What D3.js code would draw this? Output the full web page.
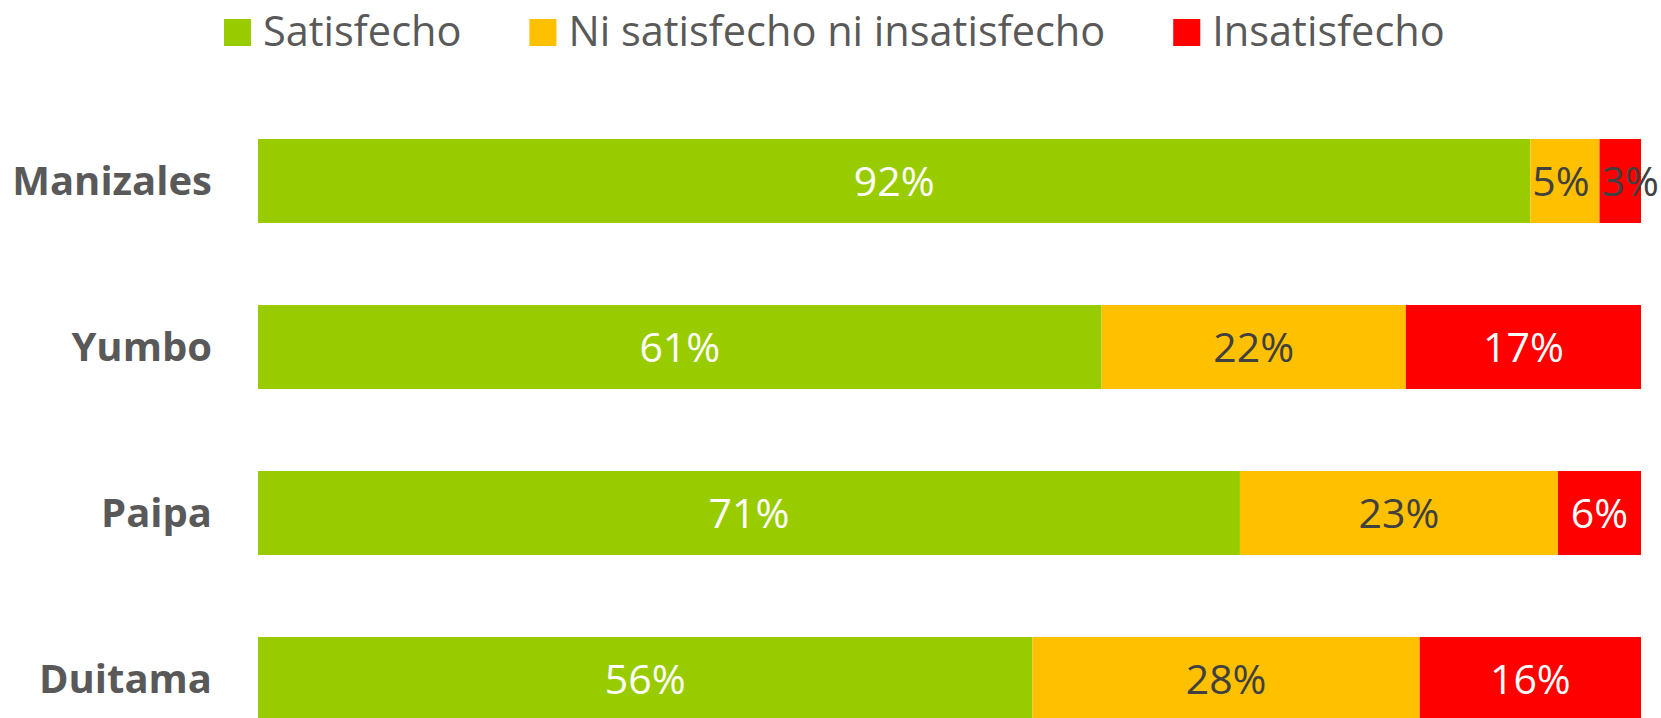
<!DOCTYPE html>
<html>
<head>
<meta charset="utf-8">
<script src="https://cdn.jsdelivr.net/npm/d3@7"></script>
<style>
  body { margin: 0; background: #fff; }
  text { font-family: "Open Sans", "Noto Sans", sans-serif; }
</style>
</head>
<body>
<div id="chart"></div>
<script>
// data
const cities = ["Manizales", "Yumbo", "Paipa", "Duitama"];
const series = ["Satisfecho", "Ni satisfecho ni insatisfecho", "Insatisfecho"];
const satisfecho = [92, 61, 71, 56];
const neutral = [5, 22, 23, 28];
const insatisfecho = [3, 17, 6, 16];
const colors = ["#99cc00", "#ffc000", "#ff0000"];

const w = 1661, h = 718;
const margin = {top: 56, right: 20, bottom: 0, left: 258};

const rows = cities.map((c, i) => ({
  city: c,
  Satisfecho: satisfecho[i],
  "Ni satisfecho ni insatisfecho": neutral[i],
  Insatisfecho: insatisfecho[i]
}));
const stacked = d3.stack().keys(series)(rows);

const xScale = d3.scaleLinear()
    .domain([0, 100])
    .range([margin.left, 1641]);

const yScale = d3.scaleBand()
    .domain(cities)
    .range([98, 98 + 166 * 4])
    .paddingInner(0.494)
    .paddingOuter(0.247);

const color = d3.scaleOrdinal().domain(series).range(colors);

const svg = d3.select("#chart")
  .append("svg")
    .attr("width", w)
    .attr("height", h);

// bars
const layers = svg.append("g")
  .selectAll("g")
  .data(stacked)
  .enter().append("g")
    .attr("fill", d => color(d.key));

layers.selectAll("rect")
  .data(d => d.map(v => Object.assign(v, {key: d.key})))
  .enter().append("rect")
    .attr("x", d => xScale(d[0]))
    .attr("y", d => yScale(d.data.city))
    .attr("width", d => xScale(d[1]) - xScale(d[0]))
    .attr("height", yScale.bandwidth());

// value labels (narrow segments get pushed apart a bit, like excel does)
layers.selectAll("text")
  .data(d => d)
  .enter().append("text")
    .attr("x", d => (xScale(d[0]) + xScale(d[1])) / 2)
    .attr("y", d => yScale(d.data.city) + yScale.bandwidth() / 2)
    .attr("dx", d => {
      if (d[1] - d[0] >= 6) return 0;
      return d.key == "Insatisfecho" ? 10 : -4;
    })
    .attr("dy", "0.36em")
    .attr("text-anchor", "middle")
    .attr("font-size", 41)
    .attr("fill", d => {
      if (d.key == "Ni satisfecho ni insatisfecho") return "#404040";
      if (d.key == "Insatisfecho" && d[1] - d[0] < 5) return "#404040";
      return "#ffffff";
    })
    .text(d => (d[1] - d[0]) + "%");

// category labels
svg.append("g")
  .selectAll("text")
  .data(cities)
  .enter().append("text")
    .attr("x", 212)
    .attr("y", d => yScale(d) + yScale.bandwidth() / 2)
    .attr("dy", "0.36em")
    .attr("text-anchor", "end")
    .attr("font-size", 40)
    .attr("font-weight", "bold")
    .attr("fill", "#595959")
    .text(d => d);

// legend
const legend = svg.append("g").attr("class", "legend");
let lx = 224;
series.forEach((s, i) => {
  legend.append("rect")
    .attr("x", lx)
    .attr("y", 19)
    .attr("width", 27)
    .attr("height", 27)
    .attr("fill", colors[i]);
  const t = legend.append("text")
    .attr("x", lx + 39)
    .attr("y", 46)
    .attr("font-size", 41.5)
    .attr("fill", "#595959")
    .text(s);
  lx = lx + 39 + t.node().getComputedTextLength() + 68;
});
</script>
</body>
</html>
